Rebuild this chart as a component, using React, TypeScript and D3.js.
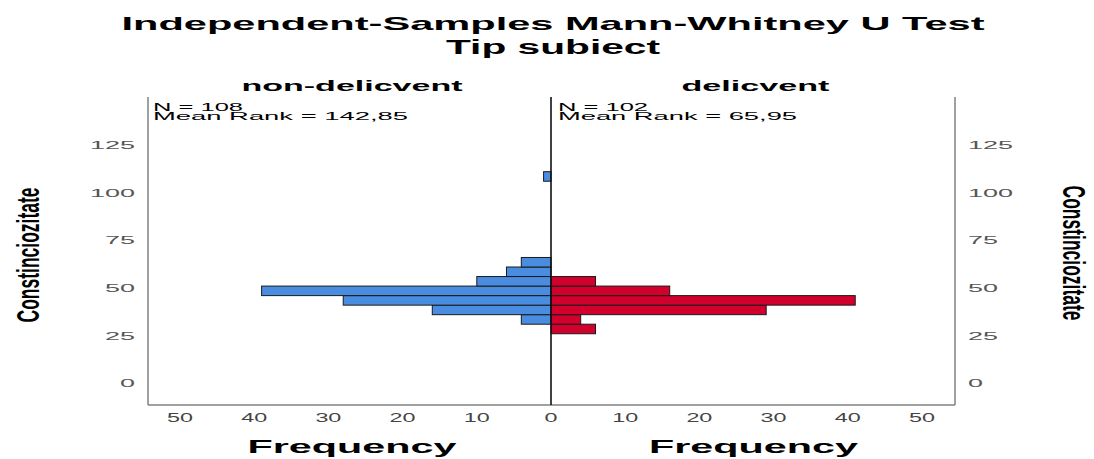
import React from "react";
import * as d3 from "d3";

// ---- data ----
const titleLines = ["Independent-Samples Mann-Whitney U Test", "Tip subiect"];
const groups = ["non-delicvent", "delicvent"];
const groupN = [108, 102];
const groupMeanRank = ["142,85", "65,95"];
const binWidth = 5;
// lower bin edges and counts (Constinciozitate)
const nonDelicventBins = [31, 36, 41, 46, 51, 56, 61, 106];
const nonDelicventCounts = [4, 16, 28, 39, 10, 6, 4, 1];
const delicventBins = [26, 31, 36, 41, 46, 51];
const delicventCounts = [6, 4, 29, 41, 16, 6];
const freqTicks = [0, 10, 20, 30, 40, 50];
const valueTicks = [0, 25, 50, 75, 100, 125];
const yLabel = "Constinciozitate";
const xLabel = "Frequency";

const FONT = "'Liberation Sans', Arial, Helvetica, sans-serif";

export default function App() {
  const W = 1094;
  const H = 459;
  const cx = 551;
  const left = 148;
  const right = 955;
  const top = 97;
  const bottom = 405;

  const y = d3.scaleLinear().domain([0, 125]).range([383.3, 145]);
  const xL = d3.scaleLinear().domain([0, 50]).range([cx, 180]);
  const xR = d3.scaleLinear().domain([0, 50]).range([cx, 922]);

  const blue = nonDelicventBins.map((b, i) => ({ b, c: nonDelicventCounts[i] }));
  const red = delicventBins.map((b, i) => ({ b, c: delicventCounts[i] }));

  const digitW = (s: string, w: number) => s.length * w;

  return (
    <svg
      width={W}
      height={H}
      style={{ position: "absolute", left: 0, top: 0, background: "#fff" }}
      fontFamily={FONT}
    >
      <rect x={0} y={0} width={W} height={H} fill="#fff" />
      {/* titles */}
      <text x={553} y={30} textAnchor="middle" fontSize={19} fontWeight="bold" textLength={863} lengthAdjust="spacingAndGlyphs">
        {titleLines[0]}
      </text>
      <text x={553} y={53.5} textAnchor="middle" fontSize={19.5} fontWeight="bold" textLength={214} lengthAdjust="spacingAndGlyphs">
        {titleLines[1]}
      </text>
      {/* group headers */}
      <text x={352} y={91} textAnchor="middle" fontSize={15} fontWeight="bold" textLength={221} lengthAdjust="spacingAndGlyphs">
        {groups[0]}
      </text>
      <text x={755.5} y={91} textAnchor="middle" fontSize={15} fontWeight="bold" textLength={148} lengthAdjust="spacingAndGlyphs">
        {groups[1]}
      </text>
      {/* N / mean rank */}
      <text x={153} y={110.5} fontSize={10} textLength={90} lengthAdjust="spacingAndGlyphs">{`N = ${groupN[0]}`}</text>
      <text x={153} y={119.6} fontSize={10} textLength={255} lengthAdjust="spacingAndGlyphs">{`Mean Rank = ${groupMeanRank[0]}`}</text>
      <text x={558} y={110.5} fontSize={10} textLength={90} lengthAdjust="spacingAndGlyphs">{`N = ${groupN[1]}`}</text>
      <text x={558} y={119.6} fontSize={10} textLength={239} lengthAdjust="spacingAndGlyphs">{`Mean Rank = ${groupMeanRank[1]}`}</text>

      {/* bars */}
      {blue.map((d, i) => (
        <rect
          key={"b" + i}
          x={xL(d.c)}
          y={y(d.b + binWidth)}
          width={cx - xL(d.c)}
          height={y(d.b) - y(d.b + binWidth)}
          fill="#4a8de0"
          stroke="#1a1a1a"
          strokeWidth={1}
        />
      ))}
      {red.map((d, i) => (
        <rect
          key={"r" + i}
          x={cx}
          y={y(d.b + binWidth)}
          width={xR(d.c) - cx}
          height={y(d.b) - y(d.b + binWidth)}
          fill="#d1002c"
          stroke="#1a1a1a"
          strokeWidth={1}
        />
      ))}

      {/* frame */}
      <line x1={left} x2={left} y1={top} y2={bottom} stroke="#808080" strokeWidth={1.5} />
      <line x1={right} x2={right} y1={top} y2={bottom} stroke="#808080" strokeWidth={1.5} />
      <line x1={left} x2={right} y1={bottom} y2={bottom} stroke="#808080" strokeWidth={1.5} />
      <line x1={cx} x2={cx} y1={top} y2={bottom} stroke="#111" strokeWidth={1.6} />

      {/* value tick labels */}
      {valueTicks.map((t) => (
        <g key={"yt" + t}>
          <text x={135} y={y(t)} dy="0.36em" textAnchor="end" fontSize={11} fill="#555" textLength={digitW(String(t), 15)} lengthAdjust="spacingAndGlyphs">
            {t}
          </text>
          <text x={968} y={y(t)} dy="0.36em" textAnchor="start" fontSize={11} fill="#555" textLength={digitW(String(t), 15)} lengthAdjust="spacingAndGlyphs">
            {t}
          </text>
        </g>
      ))}

      {/* frequency tick labels */}
      {freqTicks.map((t) => (
        <text key={"xl" + t} x={xL(t)} y={422} textAnchor="middle" fontSize={12} fill="#444" textLength={digitW(String(t), 13)} lengthAdjust="spacingAndGlyphs">
          {t}
        </text>
      ))}
      {freqTicks.filter((t) => t > 0).map((t) => (
        <text key={"xr" + t} x={xR(t)} y={422} textAnchor="middle" fontSize={12} fill="#444" textLength={digitW(String(t), 13)} lengthAdjust="spacingAndGlyphs">
          {t}
        </text>
      ))}

      {/* axis titles */}
      <text x={352} y={453} textAnchor="middle" fontSize={19} fontWeight="bold" textLength={209} lengthAdjust="spacingAndGlyphs">
        {xLabel}
      </text>
      <text x={753.5} y={453} textAnchor="middle" fontSize={19} fontWeight="bold" textLength={209} lengthAdjust="spacingAndGlyphs">
        {xLabel}
      </text>
      <g transform="translate(27.5,255) scale(1.6,1) rotate(-90)">
        <text x={0} y={0} dy="0.36em" textAnchor="middle" fontSize={20} fontWeight="bold" textLength={135} lengthAdjust="spacingAndGlyphs">
          {yLabel}
        </text>
      </g>
      <g transform="translate(1075,253) scale(1.6,1) rotate(90)">
        <text x={0} y={0} dy="0.36em" textAnchor="middle" fontSize={20} fontWeight="bold" textLength={135} lengthAdjust="spacingAndGlyphs">
          {yLabel}
        </text>
      </g>
    </svg>
  );
}
